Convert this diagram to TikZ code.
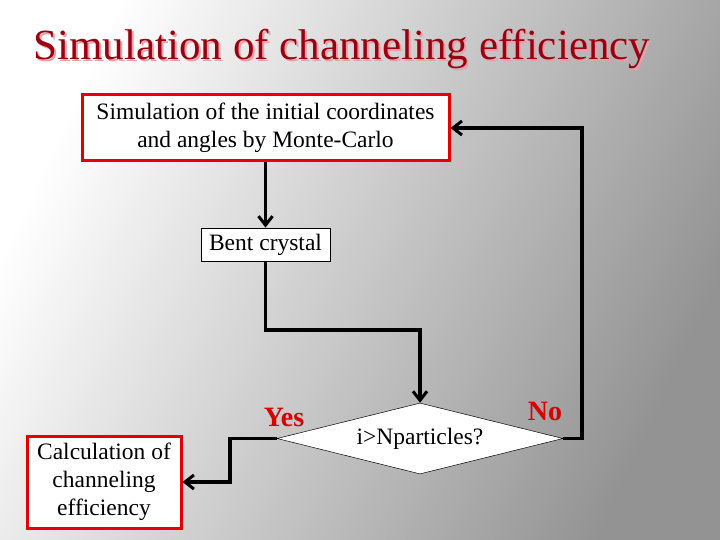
\documentclass[tikz,border=0pt]{standalone}
\usepackage{fontspec}
\setmainfont{Liberation Serif}
\usetikzlibrary{shapes.geometric,arrows.meta}
\definecolor{ttl}{HTML}{9A0010}
\definecolor{shd}{HTML}{E8A0A8}
\begin{document}
\begin{tikzpicture}[x=1pt,y=-1pt,
  redbox/.style={draw=red!90!black,line width=3pt,fill=white,align=center,font=\fontsize{23.5}{28}\selectfont,inner sep=0pt},
  conn/.style={line width=3.5pt,-{Straight Barb[length=9pt,width=14pt,line width=3pt]}},
  lbl/.style={text=red!85!black,font=\fontsize{28}{30}\selectfont\bfseries}]
\shade[shading=axis,left color=white,right color=gray!85,shading angle=65] (0,0) rectangle (720,540);
\useasboundingbox (0,0) rectangle (720,540);
\node[text=shd,font=\fontsize{43}{45}\selectfont,anchor=base west] at (32,62) {Simulation of channeling efficiency};
\node[text=ttl,font=\fontsize{43}{45}\selectfont,anchor=base west] (title) at (30,60) {Simulation of channeling efficiency};
\node[redbox,minimum width=367pt,minimum height=66pt] (sim) at (265.5,128) {Simulation of the initial coordinates\\and angles by Monte-Carlo};
\node[draw=black,line width=0.8pt,fill=white,font=\fontsize{23.5}{28}\selectfont,minimum width=129pt,minimum height=33pt,inner sep=0pt] (bent) at (265.5,244.5) {Bent crystal};
\node[diamond,draw=black,line width=0.5pt,fill=white,aspect=4,minimum width=286pt,minimum height=71pt,inner sep=0pt,font=\fontsize{23.5}{28}\selectfont] (dec) at (420,438.5) {i>Nparticles?};
\node[redbox,minimum width=154pt,minimum height=92pt] (calc) at (104,482) {Calculation of\\channeling\\efficiency};
\coordinate (c1) at (265.5,330);
\coordinate (c2) at (420,330);
\draw[conn] (sim.south) -- (bent.north);
\draw[conn] (bent.south) -- (c1) -- (c2) -- (dec.north);
\coordinate (y1) at (230,438.5);
\coordinate (y2) at (230,482);
\draw[conn] (dec.west) -- (y1) -- (y2) -- (calc.east);
\coordinate (n1) at (582,438.5);
\coordinate (n2) at (582,128);
\draw[conn] (dec.east) -- (n1) -- (n2) -- (sim.east);
\node[lbl] (yes) at (284,417) {Yes};
\node[lbl] (no) at (545,411) {No};
\end{tikzpicture}
\end{document}
